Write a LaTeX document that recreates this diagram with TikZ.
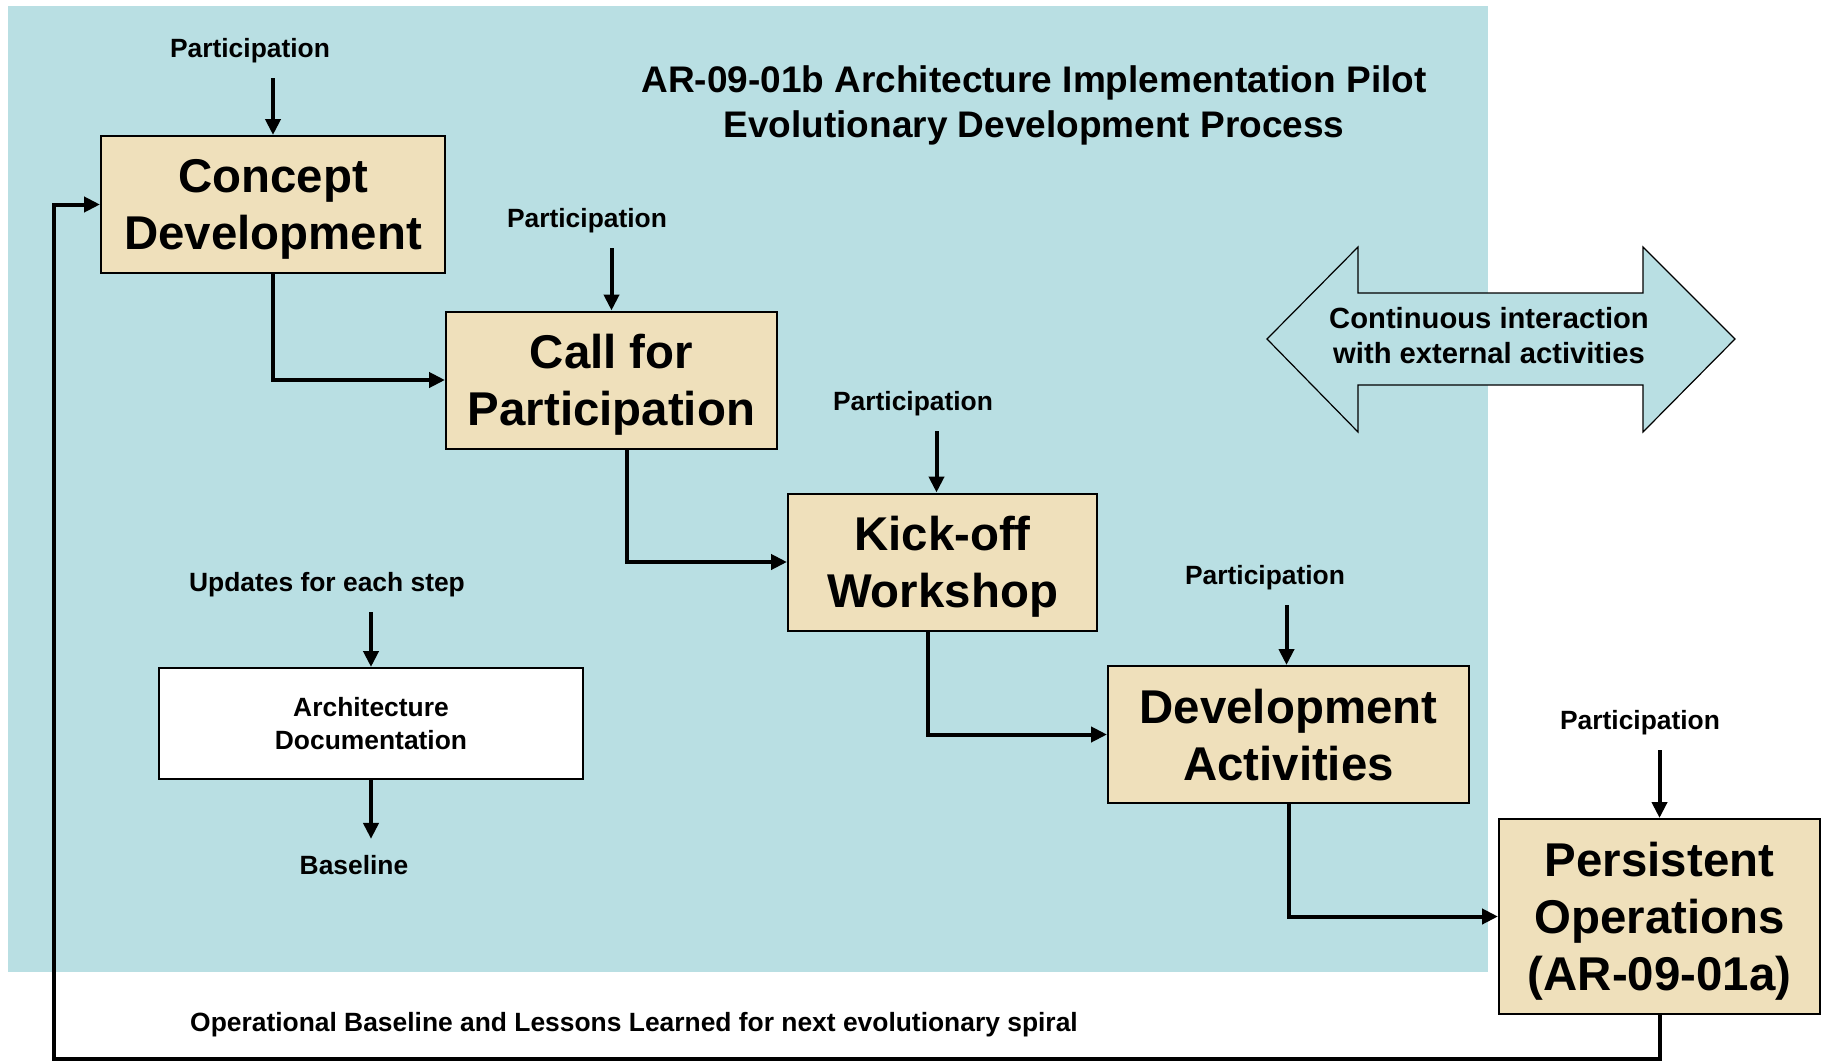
\documentclass[tikz,border=0pt]{standalone}
\usepackage{fontspec}
\setmainfont{Liberation Sans}
\usetikzlibrary{arrows.meta}

\definecolor{bgblue}{RGB}{185,223,227}
\definecolor{parch}{RGB}{239,224,187}

\tikzset{
  procbox/.style={draw=black, line width=1pt, fill=parch, align=center, inner sep=0pt,
    text depth=0pt, minimum height=68.5pt, font=\bfseries\fontsize{23.7}{28.6}\selectfont},
  docbox/.style={draw=black, line width=1pt, fill=white, align=center, inner sep=0pt,
    minimum width=212pt, minimum height=55.5pt, font=\bfseries\fontsize{13.2}{16.3}\selectfont},
  lbl/.style={inner sep=0pt, font=\bfseries\fontsize{13.2}{16}\selectfont},
  flow/.style={line width=2pt, -{Triangle[length=8pt,width=7.5pt]}},
  feed/.style={flow, shorten <=7.5pt},
}

\begin{document}
\begin{tikzpicture}[x=0.5pt,y=0.5pt,yscale=-1,xscale=1]
\useasboundingbox (0,0) rectangle (1830,1060);

% background panel
\fill [bgblue] (8,6) rectangle (1488,972);

% title
\node [font=\bfseries\fontsize{18.5}{22.8}\selectfont, align=center] (title) at (1034,105.5)
  {AR-09-01b Architecture Implementation Pilot\\Evolutionary Development Process};

% double arrow
\draw [fill=bgblue, line width=0.6pt] (1267,339) -- (1358,247) -- (1358,293) -- (1643,293) -- (1643,247)
  -- (1735,339) -- (1643,432) -- (1643,385) -- (1358,385) -- (1358,432) -- cycle;
\node [font=\bfseries\fontsize{14.6}{17.5}\selectfont, align=center] (ext) at (1489,336)
  {Continuous interaction\\with external activities};

% process boxes
\node [procbox, minimum width=172pt] (cd) at (273,204.5) {Concept\\Development};
\node [procbox, minimum width=165.5pt] (cfp) at (611.5,380) {Call for\\Participation};
\node [procbox, minimum width=154.5pt] (kw) at (942.5,562) {Kick-off\\Workshop};
\node [procbox, minimum width=180.5pt] (da) at (1288.5,734.5) {Development\\Activities};
\node [procbox, minimum width=160.5pt, minimum height=97.5pt] (po) at (1659.5,916.5) {Persistent\\Operations\\(AR-09-01a)};

% participation inputs
\node [lbl] (p1) at (250,50.5) {Participation};
\node [lbl] (p2) at (587,220.5) {Participation};
\node [lbl] (p3) at (913,403.5) {Participation};
\node [lbl] (p4) at (1265,577.5) {Participation};
\node [lbl] (p5) at (1640,722.5) {Participation};
\draw [feed] (p1.south -| cd.north) -- (cd.north);
\draw [feed] (p2.south -| cfp.north) -- (cfp.north);
\draw [feed] ([xshift=-3pt]p3.south -| kw.north) -- ([xshift=-3pt]kw.north);
\draw [feed] ([xshift=-1pt]p4.south -| da.north) -- ([xshift=-1pt]da.north);
\draw [feed] (p5.south -| po.north) -- (po.north);

% process flow
\draw [flow] (cd.south) |- (cfp.west);
\draw [flow] ([xshift=7.5pt]cfp.south) |- (kw.west);
\draw [flow] ([xshift=-7.5pt]kw.south) |- (da.west);
\draw [flow] (da.south) |- (po.west);

% feedback loop
\coordinate (lp) at (54,1059);
\draw [flow] (po.south) |- (lp) |- (cd.west);
\node [lbl] (spiral) at (634,1024.5) {Operational Baseline and Lessons Learned for next evolutionary spiral};

% architecture documentation
\node [docbox] (ad) at (371,723.5) {Architecture\\Documentation};
\node [lbl] (upd) at (327,584.5) {Updates for each step};
\node [lbl] (bl) at (354,865) {Baseline};
\draw [feed] (upd.south -| ad.north) -- (ad.north);
\draw [flow, shorten >=8pt] (ad.south) -- (bl.north -| ad.south);

\end{tikzpicture}
\end{document}
